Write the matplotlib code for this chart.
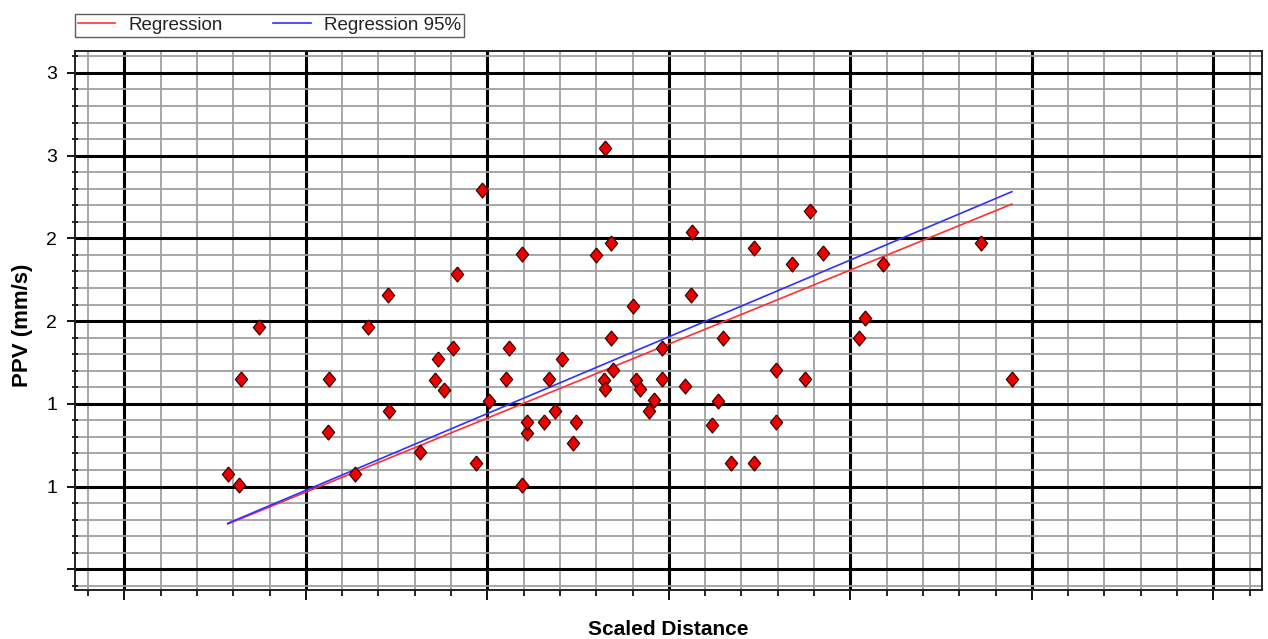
import numpy as np
import matplotlib
matplotlib.use('Agg')
import matplotlib.pyplot as plt
from matplotlib.ticker import MultipleLocator

plt.rcParams['font.family'] = ['Liberation Sans', 'DejaVu Sans']

# blast records: scaled distance vs peak particle velocity
scaled_distance = [1.57, 1.63, 1.64, 1.74, 2.12, 2.13, 2.27, 2.34, 2.45, 2.46,
                   2.63, 2.71, 2.73, 2.76, 2.81, 2.83, 2.94, 2.97, 3.01, 3.10,
                   3.12, 3.19, 3.19, 3.22, 3.22, 3.31, 3.34, 3.37, 3.41, 3.47,
                   3.49, 3.60, 3.64, 3.65, 3.65, 3.68, 3.68, 3.69, 3.80, 3.82,
                   3.84, 3.89, 3.92, 3.96, 3.96, 4.09, 4.12, 4.13, 4.24, 4.27,
                   4.30, 4.34, 4.47, 4.47, 4.59, 4.59, 4.68, 4.75, 4.78, 4.85,
                   5.05, 5.08, 5.18, 5.72, 5.89]
ppv = [0.576, 0.508, 1.148, 1.462, 0.830, 1.148, 0.576, 1.462, 1.657, 0.955,
       0.707, 1.144, 1.273, 1.083, 1.335, 1.786, 0.640, 2.292, 1.019, 1.148,
       1.335, 0.508, 1.908, 0.825, 0.892, 0.892, 1.150, 0.957, 1.273, 0.765,
       0.892, 1.901, 1.144, 2.544, 1.088, 1.399, 1.972, 1.204, 1.593, 1.144,
       1.088, 0.957, 1.021, 1.335, 1.150, 1.109, 1.659, 2.038, 0.870, 1.019,
       1.399, 0.644, 1.941, 0.644, 1.206, 0.892, 1.843, 1.150, 2.167, 1.909,
       1.399, 1.521, 1.843, 1.973, 1.150]

# fitted lines (end points)
reg_x = [1.57, 5.89]
reg_y = [0.274, 2.207]
reg95_y = [0.278, 2.282]

y_ticks = [0.0, 0.5, 1.0, 1.5, 2.0, 2.5, 3.0]
y_tick_labels = ['', '1', '1', '2', '2', '3', '3']

fig = plt.figure(figsize=(12.68, 6.39), dpi=100)
ax = fig.add_axes([0.05915, 0.07746, 0.9361, 0.8432])

ax.set_xlim(0.728, 7.268)
ax.set_ylim(-0.122, 3.134)

ax.xaxis.set_major_locator(MultipleLocator(1.0))
ax.xaxis.set_minor_locator(MultipleLocator(0.2))
ax.set_yticks(y_ticks)
ax.set_yticklabels(y_tick_labels, fontsize=14)
ax.yaxis.set_minor_locator(MultipleLocator(0.1))
ax.set_xticklabels([])

ax.grid(which='minor', color='#a0a0a0', linewidth=1.3, zorder=0)
ax.grid(which='major', color='black', linewidth=2.2, zorder=0)
ax.set_axisbelow(True)

ax.tick_params(axis='y', which='major', direction='out', length=6, width=1.3, pad=7, colors='black')
ax.tick_params(axis='y', which='minor', direction='inout', length=4, width=1.2)
ax.tick_params(axis='x', which='major', direction='out', length=7.5, width=1.3)
ax.tick_params(axis='x', which='minor', direction='out', length=4, width=1.2)
for s in ax.spines.values():
    s.set_linewidth(1.4)
    s.set_color('#222222')

reg_line, = ax.plot(reg_x, reg_y, color='#ff3030', linewidth=1.2, zorder=3)
reg95_line, = ax.plot(reg_x, reg95_y, color='#3030ff', linewidth=1.2, zorder=3)

diamond = [(0, 1), (0.82, 0), (0, -1), (-0.82, 0), (0, 1)]
ax.plot(scaled_distance, ppv, linestyle='none', marker=diamond, markersize=10.8,
        markerfacecolor='#ee0000', markeredgecolor='#3a0000', markeredgewidth=0.9, zorder=4)

ax.set_xlabel('Scaled Distance', fontsize=15, fontweight='bold')
ax.xaxis.set_label_coords(0.5, -0.057)
ax.set_ylabel('PPV (mm/s)', fontsize=16, fontweight='bold')
ax.yaxis.set_label_coords(-0.035, 0.49)

leg = fig.legend([reg_line, reg95_line], ['Regression', 'Regression 95%'],
                 ncol=2, loc='upper left', bbox_to_anchor=(75 / 1268, 1 - 14 / 639),
                 borderaxespad=0, fontsize=13.5, frameon=True, fancybox=False,
                 handlelength=2.0, handletextpad=0.7, columnspacing=2.7,
                 borderpad=0.15)
leg.get_frame().set_edgecolor('#333333')
leg.get_frame().set_linewidth(1.0)
for t in leg.get_texts():
    t.set_color('#222222')

fig.savefig('out.png', dpi=100)
